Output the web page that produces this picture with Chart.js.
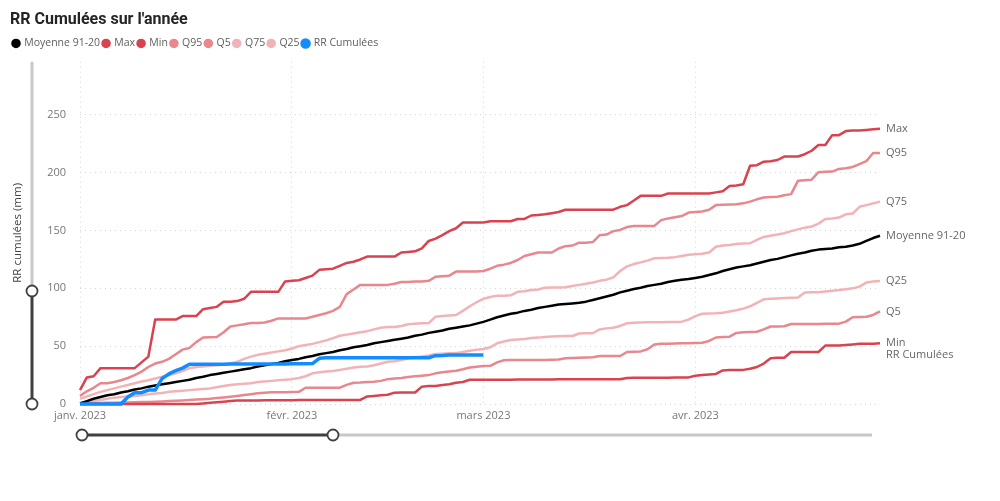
<!DOCTYPE html>
<html>
<head>
<meta charset="utf-8">
<script src="https://cdn.jsdelivr.net/npm/chart.js"></script>
<style>
  body { margin: 0; background: #fff; }
  #wrap { width: 1000px; height: 501px; }
</style>
</head>
<body>
<div id="wrap"><canvas id="rrChart" width="1000" height="501"></canvas></div>
<script>
// month ticks on the day axis (day 0 = 1 Jan 2023)
const monthTicks = [0, 31, 59, 90];
const monthLabels = ['janv. 2023', 'févr. 2023', 'mars 2023', 'avr. 2023'];
const nbDays = 118; // 1 Jan -> 28 Apr

const moyenne = [0.5,2.5,4.5,6,7.5,8.5,10,11,12.5,13.5,
  15,16,17,18,19,20,21,22.5,23.5,25,
  26,27,28,29,30,31,32.5,33.5,34.5,35.5,
  37,38,39,40.5,41.5,43,44,45,46.5,47.5,
  49,50,51,52.5,53.5,54.5,55.5,56.5,57.5,59,
  60,61.5,62.5,63.5,65,66,67,68,69.5,71,
  73,75,76.5,78,79,80.5,81.5,83,84,85,
  86,86.5,87,87.5,88.5,90,91.5,93,94.5,96.5,
  98,99.5,100.5,102,103,104,105.5,106.5,107.5,108,
  109,110,111.5,113,115,116.5,118,119,120,121.5,
  123,124.5,125.5,127,128.5,130,131,132.5,133.5,134,
  134.5,135.5,136,137,138.5,141,143.5,145.5];

const rrMax = [12,23,24,31,31,31,31,31,31,36,
  41,73,73,73,73,76,76,76,82,83,
  84,88.5,88.5,89,91,97,97,97,97,97,
  106,106.5,107,109,111,116,116.5,117,119.5,122,
  123,125,127.5,127.5,127.5,127.5,127.5,131,131.5,132,
  134.5,141,143,146,149.5,152,157,157,157,157,
  158,158,158,158,160,160,163,163.5,164,165,
  166,168,168,168,168,168,168,168,168,170.5,
  172,176,180,180,180,180,182,182,182,182,
  182,182,182,183,184,188.5,189,190,206,206.5,
  209.5,210,211,214,214,214,216,219,224,224,
  232.5,232.5,236,236.5,236.5,237,237.5,238];

const rrMin = [0,0,0,0,0,0,0,0,0,0,
  0,0,0,0,0,0,0,0,0.5,1,
  1.5,2,2.5,3,3,3,3,3.2,3.2,3.3,
  3.3,3.3,3.4,3.4,3.4,3.5,3.5,3.5,3.5,3.5,
  3.5,3.5,6.5,7,7.5,8,9.8,10,10,10,
  15,15.5,15.6,16.5,17,18.4,19,21,21,21,
  21,21,21,21,21.1,21.1,21.1,21.2,21.2,21.2,
  21.3,21.3,21.3,21.3,21.4,21.4,21.4,21.4,21.4,21.4,
  22.5,22.6,22.6,22.7,22.7,22.8,22.8,22.9,23,23,
  24.5,25,25.5,26,29,29.5,29.5,29.5,30.5,32,
  35,39.5,40,40,45,45,45,45,45,50.5,
  50.5,50.5,51,51.5,52,52,52,52.5];

const q95 = [7,11,14,18,18,19,20.5,22.5,25,28,
  32,35,36.5,39,43,47,48.5,53.5,57.5,57.7,
  58,62,67,68,69,70,70,70.5,72,74,
  74,74,74,74,75.5,77,78.5,80.5,84,95,
  99,103,103,103,103,103,104,105.5,105.5,106,
  106,106.5,110,110.5,111,114.5,114.5,114.5,114.5,115,
  117,119.5,120.5,122,124.5,128,129.5,131,131,131,
  134.5,136.5,137,139.5,139.5,140,146,146.5,149.5,150.5,
  153,154,154,154,154,159,160.5,161.5,162.5,165.5,
  166,166.5,168,172,172.3,172.5,172.7,173.5,175,177,
  178.5,179,179.3,180.5,181.5,193,193.5,194,200.5,200.8,
  201,203.3,203.9,205,207.5,210,217,217];

const q5 = [0.5,0.5,0.7,0.8,1,1.1,1.2,1.3,1.5,1.7,
  1.8,2,2.2,2.5,2.8,3.1,3.5,3.8,4.2,4.6,
  5.2,5.7,6.3,7,7.8,8.5,9.2,9.7,10.1,10.1,
  10.2,10.3,10.5,14.1,14.1,14.1,14.1,14.1,14.1,16.5,
  18.4,18.6,19,19.3,20,21.5,22,22.5,23.3,24,
  24.5,25,26.5,27.5,28.2,28.8,30,31.5,32.3,32.9,
  33,36,37.8,38,38,38,38,38,38,38.2,
  38.5,39.5,39.8,40,40.2,40.4,41.5,41.5,41.5,41.5,
  45,45.2,45.5,47.3,51.5,52,52.2,52.4,52.5,52.6,
  52.8,53,54.5,57.5,58,58.2,61.5,62,62.2,62.5,
  64.5,67,67,67.2,69.2,69.2,69.2,69.2,69.2,69.3,
  69.4,69.5,71.2,75,75.2,75.5,77,80];

const q75 = [4.5,6.5,8.5,10.5,12,13.5,15,16.5,18,19.5,
  20.5,22,23.5,25,26.5,28.5,31,32,32.5,33,
  33.5,34,35,36.5,39,41,42.5,43.5,44.5,45.5,
  46.5,48,50,51,52,53.5,55,57,59,60,
  61,62,63,64.5,66,66.5,66.5,67.5,69,69.5,
  69.8,70,75.5,76,76.5,77,80.5,84.5,88,91,
  92.5,93.7,93.7,94,97,97.5,98.5,99,100.5,100.7,
  100.8,101,102,103,104,105,106.5,107.5,109.5,115,
  119,121,122.5,124,126,126.3,126.5,127,128,129,
  129.5,130,131,136,137,137.5,138.4,138.7,139,142,
  144.5,145.5,146.5,147.7,149.5,151,152.5,153.4,156,160,
  160.5,161.2,164,164.7,170.5,172,173.5,175];

const q25 = [1,1.5,2.5,3.5,4.5,5.5,6,6.5,7,7.5,
  8.5,9,9.5,10.5,11,11.5,12,12.5,13,13.5,
  14.5,15.5,16.5,17,17.5,18,19,19.5,20,20.5,
  21,21.5,22.5,24,26.5,27.5,28,28.5,29.5,30.5,
  31.5,32.3,32.5,33.5,35,36.5,37,38,39.5,40.5,
  41,42,43.3,43.5,43.8,44,45,46,47,47.5,
  49,52.5,54,55.4,55.8,56.2,57,57.4,58,58.3,
  58.5,58.7,58.8,61,61.1,61.2,64.5,65.4,66,67.5,
  69.8,70.3,70.5,70.6,70.7,70.8,70.9,71,71.2,73,
  76,78,78.2,78.5,79,80,81,82.5,84.5,87.5,
  90.5,91,91.3,91.6,91.8,92,96.5,96.6,96.6,97.3,
  98,98.6,99.2,100,101.5,105,106,106.4];

// 2023 observed, stops on 1 March
const rrCumul = [0,0,0,0,0,0,0,6,9.8,9.8,
  12,12,22,26,28.8,31,34.3,34.3,34.3,34.3,
  34.4,34.4,34.5,34.5,34.5,34.5,34.5,34.5,34.6,34.6,
  34.6,34.7,34.7,34.8,35,39.5,40,40,40,40,
  40,40,40,40,40,40,40,40,40,40,
  40,40,41.8,42,42.4,42.4,42.4,42.4,42.4,42.4];

const darkRed = '#D9434F';
const midRed = '#E8878D';
const lightRed = '#F2B3B6';
const blue = '#118DFF';

// one label per day
let days = [];
for (let i = 0; i < nbDays; i++) {
    let d = new Date(2023, 0, 1 + i);
    days.push(d.toLocaleDateString('fr-FR'));
}

Chart.defaults.font.family = "'Open Sans', 'Segoe UI', sans-serif";
Chart.defaults.font.size = 11;
Chart.defaults.color = '#777';

// series name written at the end of each line
const endLabels = {
    id: 'endLabels',
    afterDatasetsDraw(chart) {
        const ctx = chart.ctx;
        ctx.save();
        ctx.font = "11px 'Open Sans', sans-serif";
        ctx.fillStyle = '#666';
        ctx.textAlign = 'left';
        ctx.textBaseline = 'middle';
        chart.data.datasets.forEach((ds, i) => {
            const meta = chart.getDatasetMeta(i);
            const last = meta.data[ds.data.length - 1];
            if (!last) return;
            ctx.fillText(ds.label, chart.chartArea.right + 6, last.y);
        });
        ctx.restore();
    }
};

// a bit more room under the legend
const legendGap = {
    id: 'legendGap',
    beforeInit(chart) {
        const fit = chart.legend.fit;
        chart.legend.fit = function () {
            fit.bind(chart.legend)();
            this.height += 3;
        };
    }
};

// zoom sliders (decoration)
const zoomSliders = {
    id: 'zoomSliders',
    afterDraw(chart) {
        const ctx = chart.ctx;
        const a = chart.chartArea;
        const vx = 32, vHandle = 291;
        const hy = 435, hLeft = 82, hRight = 872, hHandle = 333;
        ctx.save();
        ctx.lineCap = 'butt';
        ctx.lineWidth = 3;
        ctx.strokeStyle = '#C8C8C8';
        ctx.beginPath(); ctx.moveTo(vx, a.top); ctx.lineTo(vx, vHandle); ctx.stroke();
        ctx.beginPath(); ctx.moveTo(hHandle, hy); ctx.lineTo(hRight, hy); ctx.stroke();
        ctx.strokeStyle = '#404040';
        ctx.beginPath(); ctx.moveTo(vx, vHandle); ctx.lineTo(vx, a.bottom); ctx.stroke();
        ctx.beginPath(); ctx.moveTo(hLeft, hy); ctx.lineTo(hHandle, hy); ctx.stroke();
        const handles = [[vx, vHandle], [vx, a.bottom], [hLeft, hy], [hHandle, hy]];
        ctx.lineWidth = 1.8;
        handles.forEach(h => {
            ctx.beginPath();
            ctx.arc(h[0], h[1], 5.5, 0, Math.PI * 2);
            ctx.fillStyle = '#fff';
            ctx.fill();
            ctx.stroke();
        });
        ctx.restore();
    }
};

function line(label, data, color, width, order) {
    return {
        label: label,
        data: data,
        borderColor: color,
        backgroundColor: color,
        borderWidth: width,
        pointRadius: 0,
        pointHoverRadius: 0,
        tension: 0,
        borderJoinStyle: 'round',
        fill: false,
        clip: 5,
        order: order
    };
}

let ctx = document.getElementById('rrChart').getContext('2d');

let rrChart = new Chart(ctx, {
    type: 'line',
    data: {
        labels: days,
        datasets: [
            line('Moyenne 91-20', moyenne, '#000000', 2.5, 1),
            line('Max', rrMax, darkRed, 2.5, 2),
            line('Min', rrMin, darkRed, 2.5, 3),
            line('Q95', q95, midRed, 2.5, 4),
            line('Q5', q5, midRed, 2.5, 5),
            line('Q75', q75, lightRed, 2.5, 6),
            line('Q25', q25, lightRed, 2.5, 7),
            line('RR Cumulées', rrCumul, blue, 3.5, 0)
        ]
    },
    options: {
        responsive: false,
        animation: false,
        devicePixelRatio: 1,
        layout: {
            padding: { left: 10, right: 120, top: 0, bottom: 77 }
        },
        plugins: {
            title: {
                display: true,
                text: "RR Cumulées sur l'année",
                align: 'start',
                color: '#252423',
                font: { size: 16, weight: 'bold', family: "Roboto, 'Open Sans', sans-serif" },
                padding: { top: 10, bottom: 6 }
            },
            legend: {
                align: 'start',
                labels: {
                    usePointStyle: true,
                    pointStyle: 'circle',
                    boxWidth: 6,
                    boxHeight: 5,
                    padding: 3,
                    color: '#605E5C',
                    font: { size: 10.5 },
                    sort: (a, b) => a.datasetIndex - b.datasetIndex
                }
            },
            tooltip: { enabled: false }
        },
        scales: {
            x: {
                afterBuildTicks: (scale) => {
                    scale.ticks = monthTicks.map(v => ({ value: v }));
                },
                afterFit: (scale) => { scale.height = 20; },
                ticks: {
                    autoSkip: false,
                    maxRotation: 0,
                    padding: 5,
                    color: '#777',
                    callback: (v) => monthLabels[monthTicks.indexOf(v)]
                },
                grid: { color: '#D6D6D6', drawTicks: false },
                border: { display: false, dash: [1, 4] }
            },
            y: {
                min: 0,
                max: 296,
                afterBuildTicks: (scale) => {
                    scale.ticks = scale.ticks.filter(t => t.value % 50 === 0);
                },
                afterFit: (scale) => { scale.width = 70; },
                ticks: { stepSize: 50, padding: 14, color: '#777' },
                grid: { color: '#D6D6D6', drawTicks: false },
                border: { display: false, dash: [1, 4] },
                title: {
                    display: true,
                    text: 'RR cumulées (mm)',
                    color: '#444',
                    font: { size: 11.5 },
                    padding: { top: 1, bottom: 0 }
                }
            }
        }
    },
    plugins: [endLabels, legendGap, zoomSliders]
});
</script>
</body>
</html>
